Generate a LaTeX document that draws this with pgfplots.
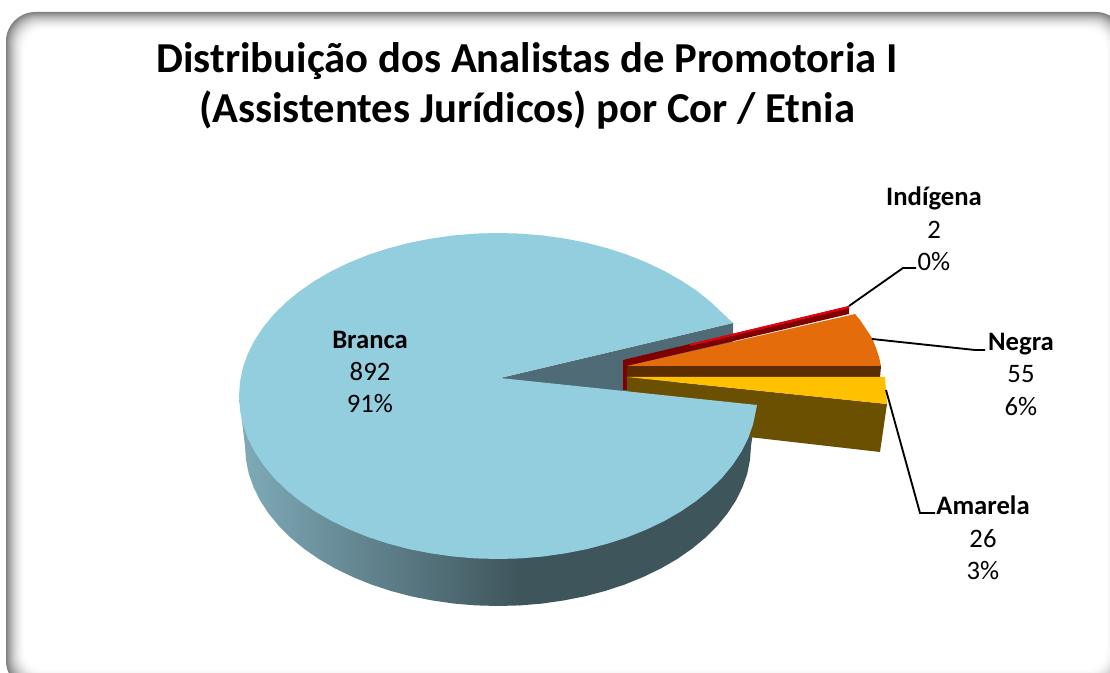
\documentclass[border=0pt]{standalone}
\usepackage{pgfplots}
\pgfplotsset{compat=1.18}
\usepackage{fontspec}
\setmainfont{Carlito}
\definecolor{topB}{HTML}{93CEDE}
\definecolor{notch}{HTML}{4F6B76}
\definecolor{sideL}{HTML}{7FABB9}
\definecolor{sideD}{HTML}{3F555C}
\definecolor{redD}{HTML}{7E0000}
\definecolor{redT}{HTML}{E4000F}
\definecolor{org}{HTML}{E46C0A}
\definecolor{orgD}{HTML}{5C2D00}
\definecolor{yel}{HTML}{FFC000}
\definecolor{yelD}{HTML}{6A5000}
\newcommand{\lab}[3]{%
\node[anchor=base,font=\fontsize{20}{24}\selectfont\bfseries] at (axis cs:#1,#2) {#3};}
\newcommand{\txt}[3]{%
\node[anchor=base,font=\fontsize{20}{24}\selectfont] at (axis cs:#1,#2) {#3};}
\begin{document}
\begin{tikzpicture}[x=1pt,y=1pt]
\useasboundingbox (0,0) rectangle (832.5,504.75);
\begin{scope}
\clip (0,0) rectangle (832.5,504.75);
\foreach \i in {0,...,20}{
  \pgfmathsetmacro{\g}{100-50*(1-\i/20)*(1-\i/20)}
  \pgfmathsetmacro{\lx}{0.75*(6+1.0*\i)}
  \pgfmathsetmacro{\ty}{0.75*(673-12-0.95*\i)}
  \pgfmathsetmacro{\rx}{0.75*(1125-1.0*\i)}
  \pgfmathsetmacro{\by}{0.75*(673-690+1.1*\i)}
  \pgfmathsetmacro{\rr}{22-0.4*\i}
  \fill[white!\g!black,rounded corners=\rr pt] (\lx,\by) rectangle (\rx,\ty);
}
\end{scope}
\begin{axis}[at={(0,0)},anchor=south west,scale only axis,width=832.5pt,height=504.75pt,
  xmin=0,xmax=1110,ymin=0,ymax=673,y dir=reverse,hide axis,clip=false]
% cut face of the large slice
\addplot[fill=notch,draw=none] coordinates {(500,378)(733,323)(733,345)(640,400)(500,400)};
% side of the large slice, shaded part
\addplot[left color=sideL,right color=sideD,draw=none] coordinates {
(239.5,400)(245,446)(246,459.9)(248.8,473.8)(253.6,487.4)(260.2,500.7)(268.7,513.6)(278.9,526)(290.7,537.8)(304.2,548.9)(319.1,559.2)(335.4,568.6)(352.8,577)(371.5,584.6)(391,591)(411.5,596.4)(432.6,600.5)(454,603.6)(475.9,605.4)(498,606)(520.1,605.4)(520.1,500)(300,450)};
% side of the large slice, dark part
\addplot[fill=sideD,draw=none] coordinates {
(519,605.4)(520.1,605.4)(542,603.6)(563.4,600.5)(584.5,596.4)(605,591)(624.5,584.6)(643.2,577)(660.6,568.6)(676.9,559.2)(691.8,548.9)(705.3,537.8)(717.1,526)(727.3,513.6)(735.8,500.7)(742.4,487.4)(747.2,473.8)(750,459.9)(751,446)(757,405)(600,500)(519,500)};
% Indígena
\addplot[fill=redD,draw=none] coordinates {(623,360)(849,306)(849,314)(627,366)(627,390)(623,390)};
\addplot[fill=redT,draw=none] coordinates {(690,344)(849,306)(849,308.3)(690,346)};
% Negra
\addplot[fill=orgD,draw=none] coordinates {(627,366)(881,366)(880,377.5)(627,377.5)};
\addplot[fill=org,draw=none] coordinates {(627,366)(855,314)(860,320)(866,329)(872,338)(876,348)(879,357)(881,366)};
% Amarela
\addplot[fill=yelD,draw=none] coordinates {(627,377)(887,404)(880,452)(740,436)(627,390)};
\addplot[fill=yel,draw=none] coordinates {(627,377)(885,377)(887,404)};
% top of the large slice
\addplot[fill=topB,draw=none] coordinates {
(500,378)(733,323)(722.3,313)(710.2,301.5)(696.4,290.5)(681.1,280.5)(664.5,271.1)(646.6,262.5)(627.5,254.8)(607.5,248.3)(586.6,242.8)(565,238.6)(543,235.5)(520.6,233.6)(498,233)
(475.4,233.6)(453,235.5)(431,238.6)(409.4,242.8)(388.5,248.3)(368.5,254.8)(349.4,262.5)(331.5,271.1)(314.9,280.7)(299.6,291.2)(285.8,302.5)(273.7,314.5)(263.3,327.1)(254.6,340.3)(247.8,353.8)(242.9,367.7)(240,381.8)(239,396)
(240,410.2)(242.9,424.3)(247.8,438.2)(254.6,451.7)(263.3,464.9)(273.7,477.5)(285.8,489.5)(299.6,500.8)(314.9,511.3)(331.5,520.9)(349.4,529.5)(368.5,537.2)(388.5,543.7)(409.4,549.2)(431,553.4)(453,556.5)(475.4,558.4)(498,559)
(520.6,558.4)(543,556.5)(565,553.4)(586.6,549.2)(607.5,543.7)(627.5,537.2)(646.6,529.5)(664.5,520.9)(681.1,511.3)(696.4,500.8)(710.2,489.5)(722.3,477.5)(732.7,464.9)(741.4,451.7)(748.2,438.2)(753.1,424.3)(756,410.2)(757,405)};
% leader lines
\addplot[black,line width=1.4pt] coordinates {(849,306)(903,268)(916,268)};
\addplot[black,line width=1.4pt] coordinates {(872,339)(975,350)(985,350)};
\addplot[black,line width=1.4pt] coordinates {(886,390)(920,513)(935,513)};
% texts
\node[anchor=base,font=\fontsize{32}{32}\selectfont\bfseries] at (axis cs:527,73) {Distribuição dos Analistas de Promotoria I};
\node[anchor=base,font=\fontsize{32}{32}\selectfont\bfseries] at (axis cs:527,123) {(Assistentes Jurídicos) por Cor / Etnia};
\lab{370}{348.5}{Branca}
\txt{370}{380.5}{892}{}
\txt{370}{413}{91\%}
\lab{934}{206}{Indígena}
\txt{934}{239}{2}
\txt{934}{271}{0\%}
\lab{1021}{350.5}{Negra}
\txt{1021}{383}{55}
\txt{1021}{416}{6\%}
\lab{983}{514}{Amarela}
\txt{983}{547}{26}
\txt{983}{579.5}{3\%}
\end{axis}
\end{tikzpicture}
\end{document}
